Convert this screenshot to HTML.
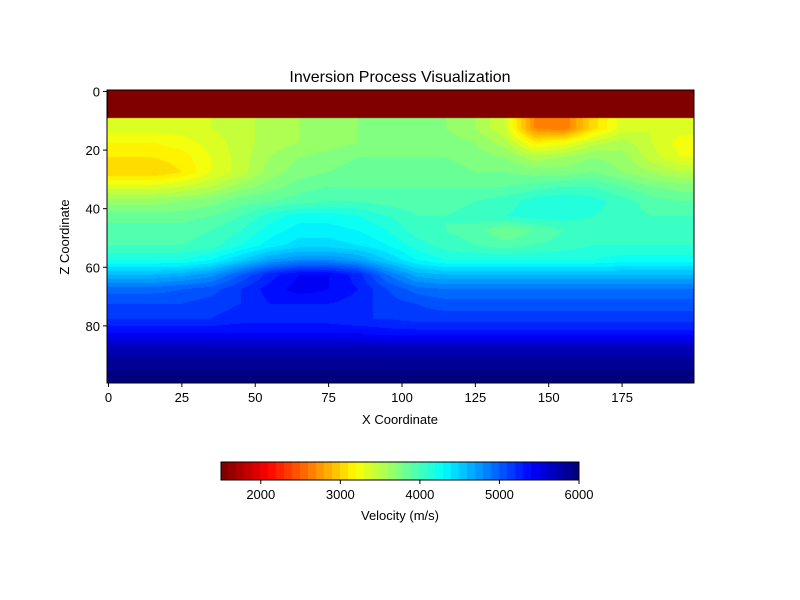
<!DOCTYPE html>
<html><head><meta charset="utf-8"><style>
body{margin:0;background:#fff;font-family:"Liberation Sans","DejaVu Sans",sans-serif;}
#wrap{position:relative;width:800px;height:600px;overflow:hidden;}
canvas{position:absolute;}
</style></head><body>
<div id="wrap">
<canvas id="heat" width="587" height="293" style="left:107px;top:90px"></canvas>
<canvas id="cbar" width="358" height="18" style="left:221px;top:462px"></canvas>
<svg id="ax" width="800" height="600" style="position:absolute;left:0;top:0"></svg>
</div>
<script>
// data
const xTicks=[0,25,50,75,100,125,150,175];
const zTicks=[0,20,40,60,80];
const cbTicks=[2000,3000,4000,5000,6000];
const vMin=1500, vMax=6000;
// velocity grid: rows = z bands of 5 units (0..100), cols = x bands of 10 units (0..200)
const row00=[1500,1500,1500,1500,1500,1500,1500,1500,1500,1500,1500,1500,1500,1500,1500,1500,1500,1500,1500,1500];
const row05=[1500,1500,1500,1500,1500,1500,1500,1500,1500,1500,1500,1500,1500,1500,1500,1500,1500,1500,1500,1500];
const row10=[3350,3350,3350,3400,3450,3550,3600,3650,3700,3700,3700,3700,3600,3400,2700,2600,3050,3350,3400,3350];
const row15=[3200,3200,3250,3350,3450,3550,3600,3650,3700,3700,3750,3750,3700,3550,3150,3250,3450,3550,3400,3250];
const row20=[3100,3100,3150,3300,3450,3600,3700,3750,3800,3800,3800,3800,3750,3700,3550,3600,3700,3650,3450,3300];
const row25=[3000,3000,3100,3300,3450,3650,3750,3800,3850,3850,3850,3850,3800,3800,3750,3750,3800,3700,3600,3500];
const row30=[3350,3350,3400,3500,3650,3750,3850,3900,3900,3900,3900,3900,3900,3900,3950,4000,4000,3900,3800,3750];
const row35=[3650,3650,3700,3750,3850,3900,3950,4000,4000,3950,3950,3950,4000,4050,4150,4200,4150,4050,3950,3900];
const row40=[3850,3850,3850,3900,4000,4150,4250,4250,4200,4100,4000,4000,4050,4100,4150,4150,4100,4050,4000,4000];
const row45=[3950,3950,3950,4000,4100,4250,4350,4350,4300,4200,4050,4000,3950,3800,3900,4000,4050,4050,4050,4050];
const row50=[4000,4000,4000,4050,4200,4350,4450,4450,4400,4300,4150,4050,4000,3950,4000,4050,4100,4100,4100,4100];
const row55=[4200,4200,4200,4300,4500,4700,4800,4800,4700,4500,4300,4200,4200,4200,4200,4200,4200,4250,4250,4250];
const row60=[4600,4600,4650,4750,5000,5250,5400,5400,5250,4900,4650,4600,4600,4600,4600,4600,4600,4600,4600,4600];
const row65=[4950,4950,5000,5050,5200,5350,5450,5400,5300,5100,4950,4900,4900,4900,4900,4900,4900,4900,4900,4900];
const row70=[5100,5100,5100,5150,5200,5300,5300,5300,5250,5150,5100,5050,5050,5050,5050,5050,5050,5050,5050,5050];
const row75=[5200,5200,5200,5200,5250,5250,5250,5250,5200,5200,5150,5150,5150,5150,5150,5150,5150,5150,5150,5150];
const row80=[5400,5400,5400,5400,5400,5400,5400,5400,5400,5350,5350,5350,5350,5350,5350,5350,5350,5350,5350,5350];
const row85=[5700,5700,5700,5700,5700,5700,5700,5700,5700,5700,5700,5700,5700,5700,5700,5700,5700,5700,5700,5700];
const row90=[5850,5850,5850,5850,5850,5850,5850,5850,5850,5850,5850,5850,5850,5850,5850,5850,5850,5850,5850,5850];
const row95=[5950,5950,5950,5950,5950,5950,5950,5950,5950,5950,5950,5950,5950,5950,5950,5950,5950,5950,5950,5950];
const grid=[row00,row05,row10,row15,row20,row25,row30,row35,row40,row45,row50,row55,row60,row65,row70,row75,row80,row85,row90,row95];
const redLayerDepth=9;

const PL=107,PT=90,PW=587,PH=293;
const xs=v=>PL+(v+0.5)/200*PW;
const zs=v=>PT+(v+0.5)/100*PH;
const cs=v=>221+(v-vMin)/(vMax-vMin)*358;
const nLev=Math.round((vMax-vMin)/100);

function jet(t){const c=x=>Math.max(0,Math.min(1,x));
 return [c(1.5-Math.abs(4*t-3)),c(1.5-Math.abs(4*t-2)),c(1.5-Math.abs(4*t-1))].map(x=>Math.round(x*255));}
function colorOf(v){let i=Math.floor((v-vMin)/100);i=Math.max(0,Math.min(nLev-1,i));
 return jet(1-i/(nLev-1));}

// heatmap
const hc=document.getElementById('heat').getContext('2d');
const img=hc.createImageData(PW,PH);
const nr=grid.length,nc=grid[0].length;
for(let py=0;py<PH;py++){
 const z=(py+0.5)/PH*100-0.5;
 for(let px=0;px<PW;px++){
  const x=(px+0.5)/PW*200-0.5;
  let v;
  if(z<redLayerDepth) v=grid[0][Math.min(nc-1,Math.floor(x/10))];
  else{
   let fr=Math.max(2,Math.min(nr-1,(z-2.5)/5)); let fc=Math.max(0,Math.min(nc-1,(x-5)/10));
   const r0=Math.floor(fr),r1=Math.min(nr-1,r0+1),c0=Math.floor(fc),c1=Math.min(nc-1,c0+1);
   const a=fr-r0,b=fc-c0;
   v=(grid[r0][c0]*(1-b)+grid[r0][c1]*b)*(1-a)+(grid[r1][c0]*(1-b)+grid[r1][c1]*b)*a;
  }
  const col=colorOf(v);const i=(py*PW+px)*4;
  img.data[i]=col[0];img.data[i+1]=col[1];img.data[i+2]=col[2];img.data[i+3]=255;
 }}
hc.putImageData(img,0,0);

// colorbar
const cc=document.getElementById('cbar').getContext('2d');
for(let v=vMin;v<vMax;v+=100){const c=colorOf(v);cc.fillStyle=`rgb(${c})`;
 const a=cs(v)-221,b=cs(v+100)-221;cc.fillRect(Math.floor(a),0,Math.ceil(b-a)+1,18);}

// axes
const svg=document.getElementById('ax');const NS='http://www.w3.org/2000/svg';
function mk(tag,at,txt){const e=document.createElementNS(NS,tag);for(const k in at)e.setAttribute(k,at[k]);if(txt!==undefined)e.textContent=txt;svg.appendChild(e);return e;}
let e;
e=mk('rect',{x:PL,y:PT,width:PW,height:PH,fill:'none',stroke:'#000','stroke-width':1});


e=mk('rect',{x:221,y:462,width:358,height:18,fill:'none',stroke:'#000','stroke-width':1});


xTicks.forEach(v=>{const x=xs(v);
 e=mk('line',{x1:x,x2:x,y1:PT+PH,y2:PT+PH+4,stroke:'#000'});
 
 
 e=mk('text',{x:x,y:PT+PH+19,'font-size':13,'text-anchor':'middle'},v);
 
 });
zTicks.forEach(v=>{const y=zs(v);
 e=mk('line',{x1:PL-4,x2:PL,y1:y,y2:y,stroke:'#000'});
 
 
 e=mk('text',{x:PL-7,y:y+5,'font-size':13,'text-anchor':'end'},v);
 
 });
cbTicks.forEach(v=>{const x=cs(v);
 e=mk('line',{x1:x,x2:x,y1:480,y2:484,stroke:'#000'});
 
 
 e=mk('text',{x:x,y:499,'font-size':13,'text-anchor':'middle'},v);
 
 });
e=mk('text',{x:400,y:82,'font-size':16,'text-anchor':'middle'},'Inversion Process Visualization');


e=mk('text',{x:400,y:424,'font-size':13,'text-anchor':'middle'},'X Coordinate');


e=mk('text',{x:69,y:237,'font-size':13,'text-anchor':'middle',transform:'rotate(-90 69 237)'},'Z Coordinate');


e=mk('text',{x:400,y:520,'font-size':13,'text-anchor':'middle'},'Velocity (m/s)');


</script>
</body></html>
